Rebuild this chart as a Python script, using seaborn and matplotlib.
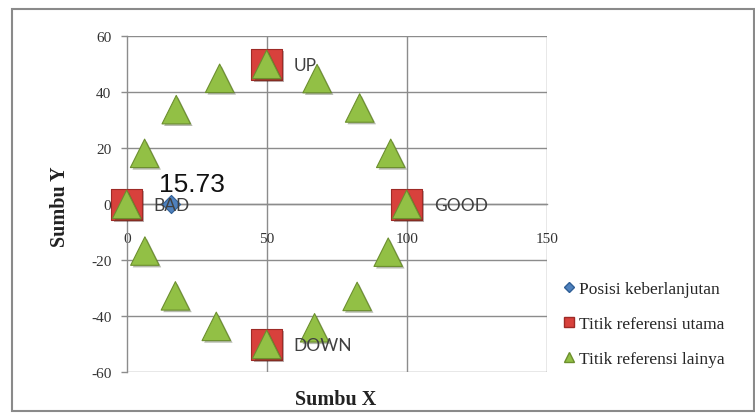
import matplotlib
matplotlib.use("Agg")
import matplotlib.pyplot as plt
import matplotlib.patheffects as pe
from matplotlib.lines import Line2D
from matplotlib.patches import Rectangle
import seaborn as sns
import pandas as pd

# Sustainability position (Rapfish-style ordination)
pos_x = [15.73]
pos_y = [0.0]
pos_value_label = "15.73"

# Main reference anchors
main_x = [0, 50, 100, 50]
main_y = [0, 50, 0, -50]
main_labels = ["BAD", "UP", "GOOD", "DOWN"]

# Other reference anchors
other_x = [0, 6.4, 17.7, 33.2, 50, 68.0, 83.2, 94.3,
           100, 93.4, 82.3, 67.1, 50, 32.0, 17.4, 6.5]
other_y = [0, 18.2, 33.8, 45.0, 50, 44.9, 34.4, 18.2,
           0, -17.1, -32.9, -44.1, -50, -43.6, -32.7, -16.7]

series_names = ["Posisi keberlanjutan", "Titik referensi utama", "Titik referensi lainya"]
x_ticks = [0, 50, 100, 150]
y_ticks = [-60, -40, -20, 0, 20, 40, 60]

BLUE = "#4F81BD"
RED = "#D8413C"
GREEN = "#92C045"
GRID = "#8C8C8C"

sns.set_style("white")
plt.rcParams["font.family"] = ["Liberation Serif", "DejaVu Serif"]

fig = plt.figure(figsize=(7.55, 4.14), dpi=100)
ax = fig.add_axes([0.1678, 0.0983, 0.5563, 0.8116])

shadow = [pe.SimplePatchShadow(offset=(1.5, -1.5), alpha=0.35), pe.Normal()]

df_pos = pd.DataFrame({"x": pos_x, "y": pos_y})
df_main = pd.DataFrame({"x": main_x, "y": main_y})
df_other = pd.DataFrame({"x": other_x, "y": other_y})

sns.scatterplot(data=df_main, x="x", y="y", marker="s", s=480, color=RED,
                edgecolor="#9E2A26", linewidth=0.8, ax=ax, zorder=3, legend=False,
                path_effects=shadow, clip_on=False)
sns.scatterplot(data=df_other, x="x", y="y", marker="^", s=420, color=GREEN,
                edgecolor="#6C8F2E", linewidth=0.8, ax=ax, zorder=4, legend=False,
                path_effects=shadow, clip_on=False)
sns.scatterplot(data=df_pos, x="x", y="y", marker="D", s=85, color=BLUE,
                edgecolor="#2F5F96", linewidth=0.8, ax=ax, zorder=5, legend=False,
                clip_on=False)

# Data labels on the main anchors
for x, y, lab in zip(main_x, main_y, main_labels):
    ax.annotate(lab, xy=(x, y), xytext=(27, -1), textcoords="offset pixels",
                ha="left", va="center", fontsize=12.5, color="#404040",
                family=["Lato", "DejaVu Sans"], zorder=6)

ax.annotate(pos_value_label, xy=(pos_x[0], pos_y[0]), xytext=(-12, 13),
            textcoords="offset pixels", ha="left", va="baseline",
            fontsize=19, color="#111111", family=["Liberation Sans", "DejaVu Sans"],
            zorder=6)

ax.set_xlim(0, 150)
ax.set_ylim(-60, 60)
ax.set_xticks(x_ticks)
ax.set_yticks(y_ticks)
ax.set_xticklabels([str(v) for v in x_ticks])
ax.set_yticklabels([str(v) for v in y_ticks])

# Axes crossing at the origin, Excel-style gridlines
ax.spines["left"].set_position(("data", 0))
ax.spines["bottom"].set_position(("data", 0))
for side in ["left", "bottom"]:
    ax.spines[side].set_color(GRID)
    ax.spines[side].set_linewidth(1.0)
for side in ["top", "right"]:
    ax.spines[side].set_visible(False)

for v in y_ticks:
    ax.axhline(v, color=GRID, lw=1.0, zorder=0)
for v in x_ticks[1:]:
    ax.axvline(v, color=GRID, lw=1.0, zorder=0)

ax.tick_params(axis="y", which="major", left=True, length=4, width=1,
               color=GRID, pad=7, labelsize=11, labelcolor="#333333")
ax.tick_params(axis="x", which="major", bottom=False, length=0, pad=20,
               labelsize=11, labelcolor="#333333")

ax.set_xlabel("Sumbu X", fontsize=14.5, fontweight="bold", color="#222222")
ax.set_ylabel("Sumbu Y", fontsize=14.5, fontweight="bold", color="#222222")
ax.xaxis.set_label_coords(0.498, -0.05)
ax.yaxis.set_label_coords(-0.135, 0.495)

handles = [
    Line2D([], [], ls="none", marker="D", ms=5.5, color=BLUE, mec="#2F5F96"),
    Line2D([], [], ls="none", marker="s", ms=6.5, color=RED, mec="#9E2A26"),
    Line2D([], [], ls="none", marker="^", ms=7, color=GREEN, mec="#6C8F2E"),
]
fig.legend(handles, series_names, loc="center left", bbox_to_anchor=(0.745, 0.215),
           frameon=False, fontsize=12.5, handlelength=0.7, handletextpad=0.25,
           labelspacing=1.1, borderpad=0, borderaxespad=0)

# Chart area border
fig.add_artist(Rectangle((12 / 755, 2 / 414), 742 / 755, 402 / 414,
                         transform=fig.transFigure, fill=False,
                         edgecolor="#8A8A8A", lw=1.5))

fig.savefig("out.png", dpi=100)
